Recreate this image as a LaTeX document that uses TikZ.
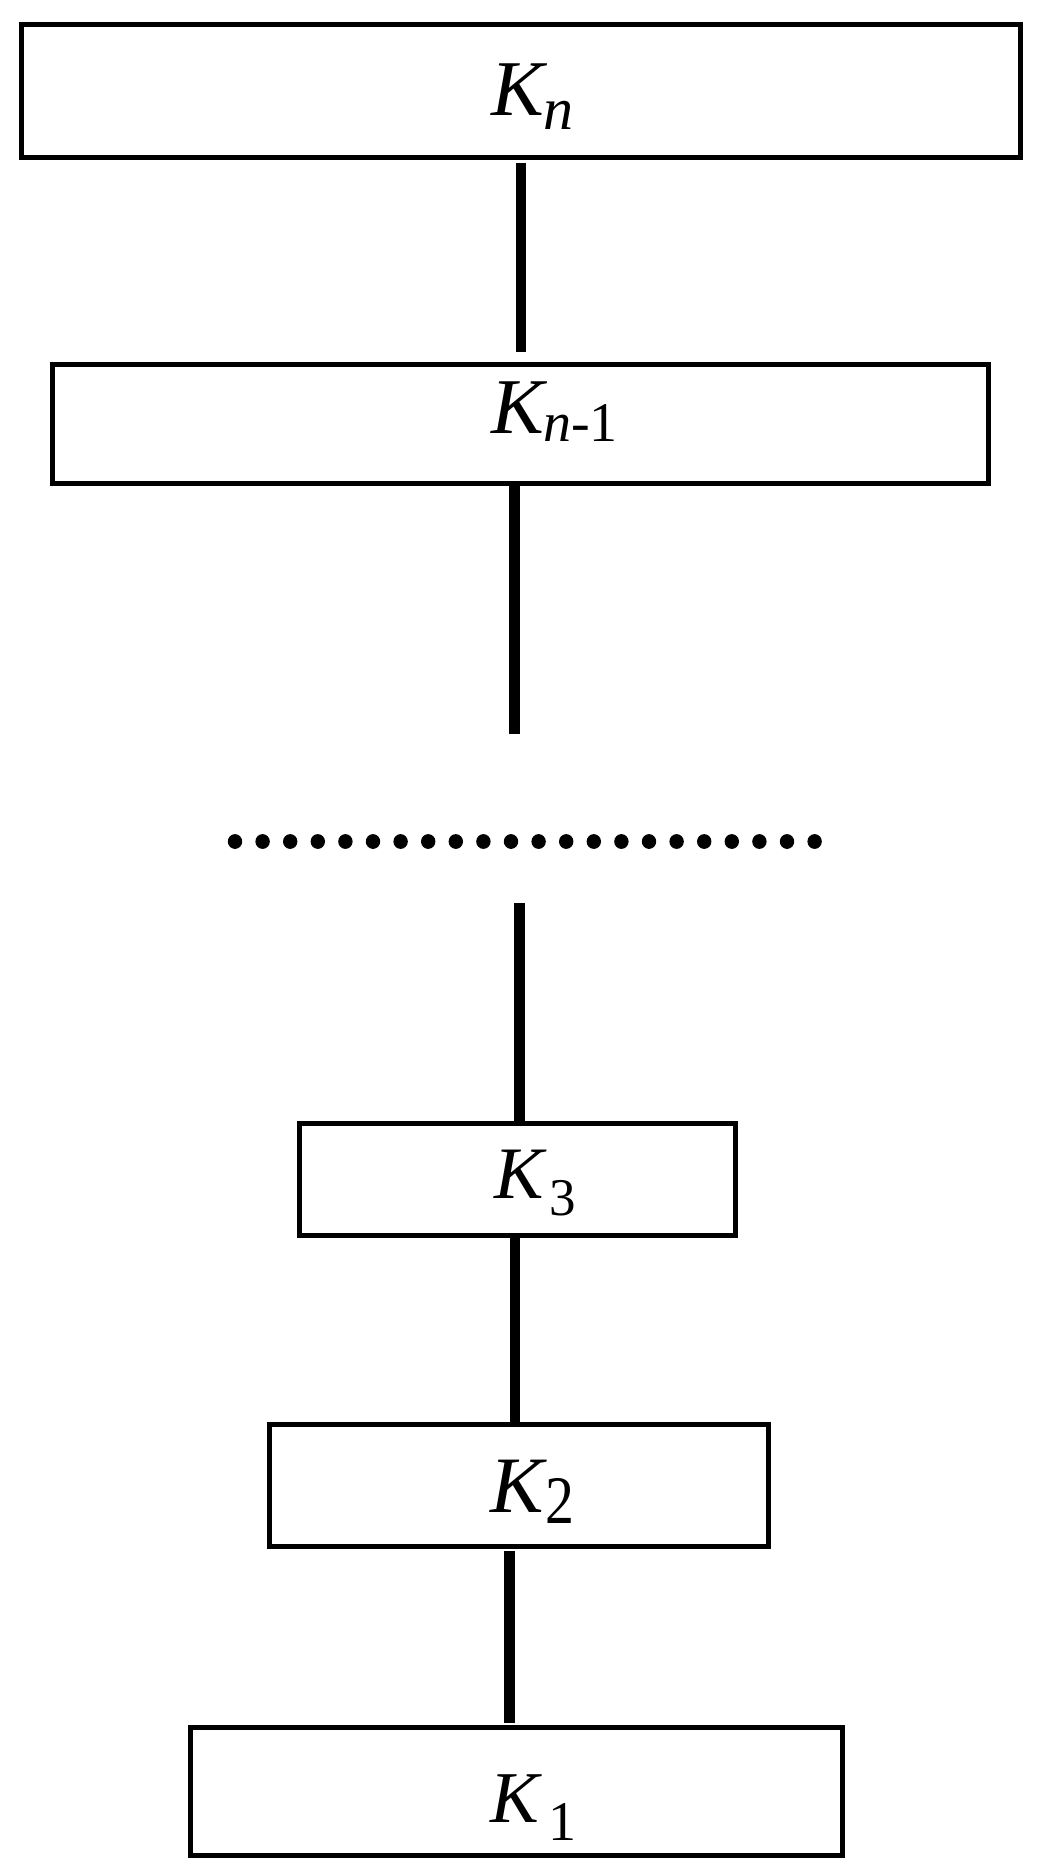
\documentclass[tikz,border=0pt]{standalone}
\usepackage{fontspec}
\setmainfont{Liberation Serif}
\newcommand{\Klab}[6]{{\fontsize{#1}{#1}\selectfont\itshape K}\kern#5\raisebox{#3}{\fontsize{#2}{#2}\selectfont\scalebox{#6}[1]{#4}}}
\begin{document}
\begin{tikzpicture}[x=1pt,y=-1pt,
  box/.style={draw=black,line width=5pt,rectangle,fill=white,inner sep=0pt,outer sep=0pt},
  lab/.style={anchor=base west,inner sep=0pt,outer sep=0pt},
  conn/.style={draw=black,line width=10.5pt,line cap=butt},
  dot/.style={fill=black}]
\path[use as bounding box] (0,0) rectangle (1041,1872);
% boxes
\node[box,minimum width=999pt,minimum height=133.3pt] (kn)  at (520.6,90.85) {};
\node[box,minimum width=936pt,minimum height=119pt]   (kn1) at (520.5,424) {};
\node[box,minimum width=436pt,minimum height=112pt]   (k3)  at (517.5,1179.5) {};
\node[box,minimum width=499pt,minimum height=121.5pt] (k2)  at (519,1485.25) {};
\node[box,minimum width=652pt,minimum height=128pt]   (k1)  at (516.5,1791.5) {};
% labels
\node[lab] (tkn)  at (491.5,115)    {\Klab{79}{60}{-14pt}{\itshape n}{-1pt}{1}};
\node[lab] (tkn1) at (491.5,433.3)  {\Klab{79}{56}{-8.4pt}{{\itshape n}-1}{-1pt}{1}};
\node[lab] (tk3)  at (494,1198)     {\Klab{74}{53}{-17pt}{3}{6pt}{1}};
\node[lab] (tk2)  at (490.5,1512.7) {\Klab{80}{68}{-11pt}{2}{2pt}{0.85}};
\node[lab] (tk1)  at (490.5,1822)   {\Klab{73}{56}{-18pt}{1}{9pt}{1}};
% connectors
\coordinate (c2) at (514.7,734.3);
\coordinate (c3) at (519.7,903.3);
\draw[conn] ([xshift=0.4pt,yshift=-5.5pt]kn.south) -- ([xshift=0.5pt,yshift=12.5pt]kn1.north);
\draw[conn] ([xshift=-5.8pt,yshift=-2.5pt]kn1.south) -- (c2);
\draw[conn] (c3) -- ([xshift=2.2pt,yshift=2.5pt]k3.north);
\draw[conn] ([xshift=-2.5pt,yshift=-2.5pt]k3.south) -- ([xshift=-4pt,yshift=2.5pt]k2.north);
\draw[conn] ([xshift=-9.3pt,yshift=-5pt]k2.south) -- ([xshift=-6.8pt,yshift=4.2pt]k1.north);
% dotted row
\foreach \i in {0,...,21}
  \fill[dot] (235+27.6*\i,841.5) circle[x radius=7.2pt,y radius=7.4pt];
\end{tikzpicture}
\end{document}
